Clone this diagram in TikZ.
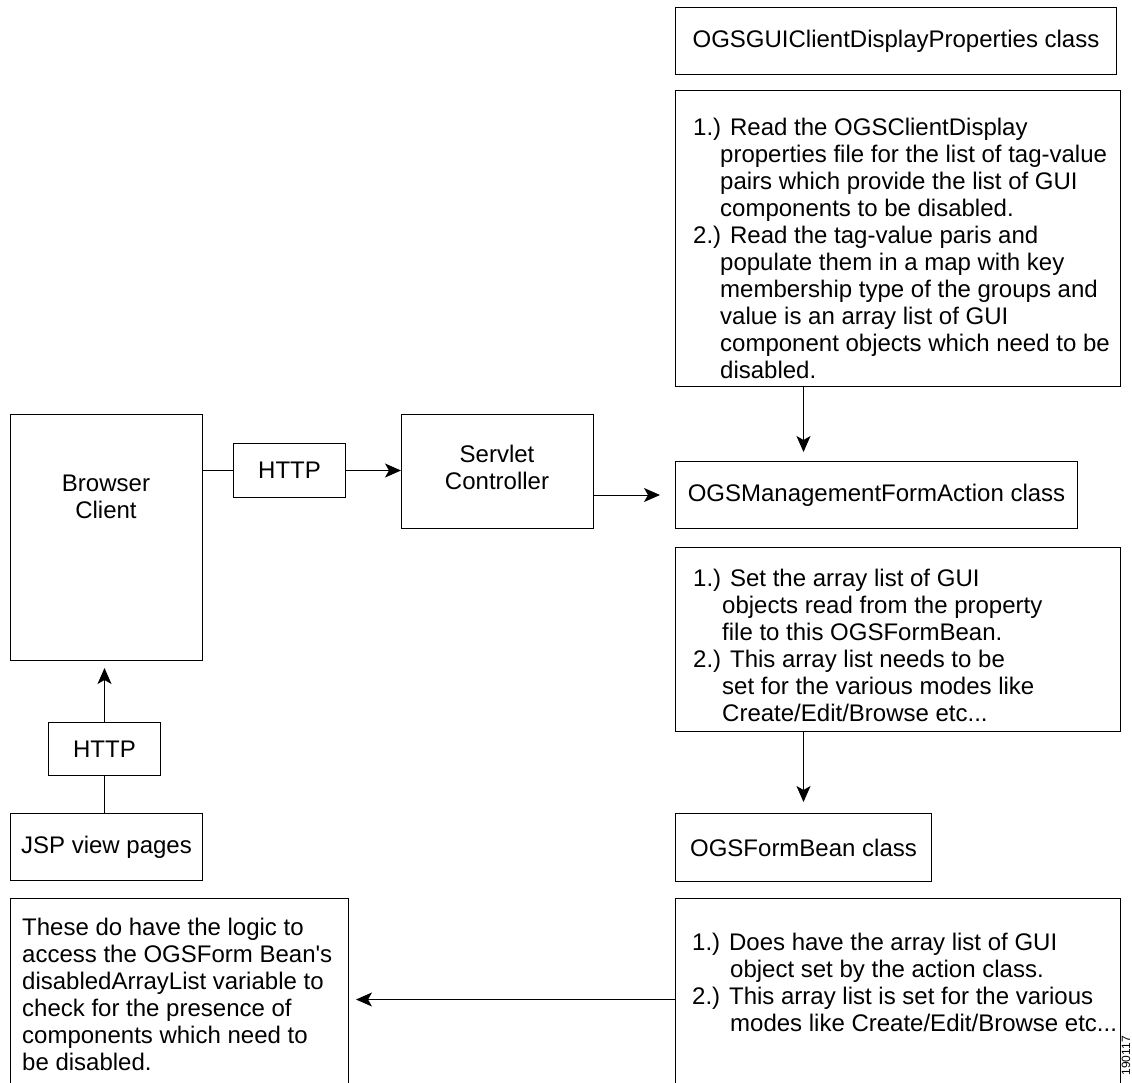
\documentclass[tikz,border=0pt]{standalone}
\usepackage{fontspec}
\setmainfont{Liberation Sans}
\usetikzlibrary{arrows.meta}
\tikzset{
  box/.style={draw=black, line width=1pt, inner sep=0pt, anchor=north west, font=\fontsize{24}{27}\selectfont},
  txt/.style={inner sep=0pt, align=left, anchor=north west, font=\fontsize{24}{27}\selectfont},
  ctxt/.style={inner sep=0pt, align=center, font=\fontsize{24}{27}\selectfont},
  conn/.style={draw=black, line width=1pt},
  arr/.style={conn, -{Stealth[length=16pt,width=14pt,inset=4pt]}}
}
\begin{document}
\begin{tikzpicture}[x=1pt,y=-1pt]
\useasboundingbox (0,0) rectangle (1132,1082);
% left column
\node[box, minimum width=192pt, minimum height=246pt] (bc) at (10,414) {};
\node[ctxt] (bct) at (106,497) {Browser\\Client};
\node[box, minimum width=112pt, minimum height=54pt] (ht1) at (233,443) {HTTP};
\node[box, minimum width=192pt, minimum height=114pt] (sc) at (401,414) {};
\node[ctxt] (sct) at (497,467) {Servlet\\Controller};
\node[box, minimum width=112pt, minimum height=53pt] (ht2) at (48,722) {HTTP};
\node[box, minimum width=192pt, minimum height=67pt] (jsp) at (10,813) {JSP view pages};
\node[box, minimum width=338pt, minimum height=202pt] (lb) at (10,898) {};
\node[txt] (lbt) at (22,918) {These do have the logic to\\access the OGSForm Bean\textquotesingle s\\disabledArrayList variable to\\check for the presence of\\components which need to\\be disabled.};
% right column
\node[box, minimum width=441pt, minimum height=67pt] (gp) at (675,7) {OGSGUIClientDisplayProperties class};
\node[box, minimum width=445pt, minimum height=296pt] (d1) at (675,90) {};
\node[txt] (d1t) at (693,118) {1.) Read the OGSClientDisplay\\
\hspace*{27pt}properties file for the list of tag-value\\
\hspace*{27pt}pairs which provide the list of GUI\\
\hspace*{27pt}components to be disabled.\\
2.) Read the tag-value paris and\\
\hspace*{27pt}populate them in a map with key\\
\hspace*{27pt}membership type of the groups and\\
\hspace*{27pt}value is an array list of GUI\\
\hspace*{27pt}component objects which need to be\\
\hspace*{27pt}disabled.};
\node[box, minimum width=402pt, minimum height=67pt] (mg) at (675,461) {OGSManagementFormAction class};
\node[box, minimum width=445pt, minimum height=184pt] (d2) at (675,547) {};
\node[txt] (d2t) at (693,569) {1.) Set the array list of GUI\\
\hspace*{29pt}objects read from the property\\
\hspace*{29pt}file to this OGSFormBean.\\
2.) This array list needs to be\\
\hspace*{29pt}set for the various modes like\\
\hspace*{29pt}Create/Edit/Browse etc...};
\node[box, minimum width=256pt, minimum height=68pt] (fb) at (675,813) {OGSFormBean class};
\node[box, minimum width=445pt, minimum height=202pt] (d3) at (675,898) {};
\node[txt] (d3t) at (692,933) {1.) Does have the array list of GUI\\
\hspace*{38pt}object set by the action class.\\
2.) This array list is set for the various\\
\hspace*{38pt}modes like Create/Edit/Browse etc...};
\node[inner sep=0pt, rotate=90, anchor=east, font=\fontsize{12}{12}\selectfont] (fig) at (1126,1036) {190117};
% connectors
\draw[conn] (bc.east |- ht1.west) -- (ht1.west);
\draw[arr] (ht1.east) -- (ht1.east -| sc.west);
\draw[arr, shorten >=15pt] (sc.east |- mg.west) -- (mg.west);
\draw[arr, shorten >=9pt] (fb.north |- d1.south) -- (fb.north |- mg.north);
\draw[arr, shorten >=11pt] (fb.north |- d2.south) -- (fb.north);
\draw[arr, shorten >=7pt] (d3.west) -- (lb.east);
\draw[conn] (ht2.south |- jsp.north) -- (ht2.south);
\draw[arr, shorten >=7pt] (ht2.north) -- (ht2.north |- bc.south);
\end{tikzpicture}
\end{document}
